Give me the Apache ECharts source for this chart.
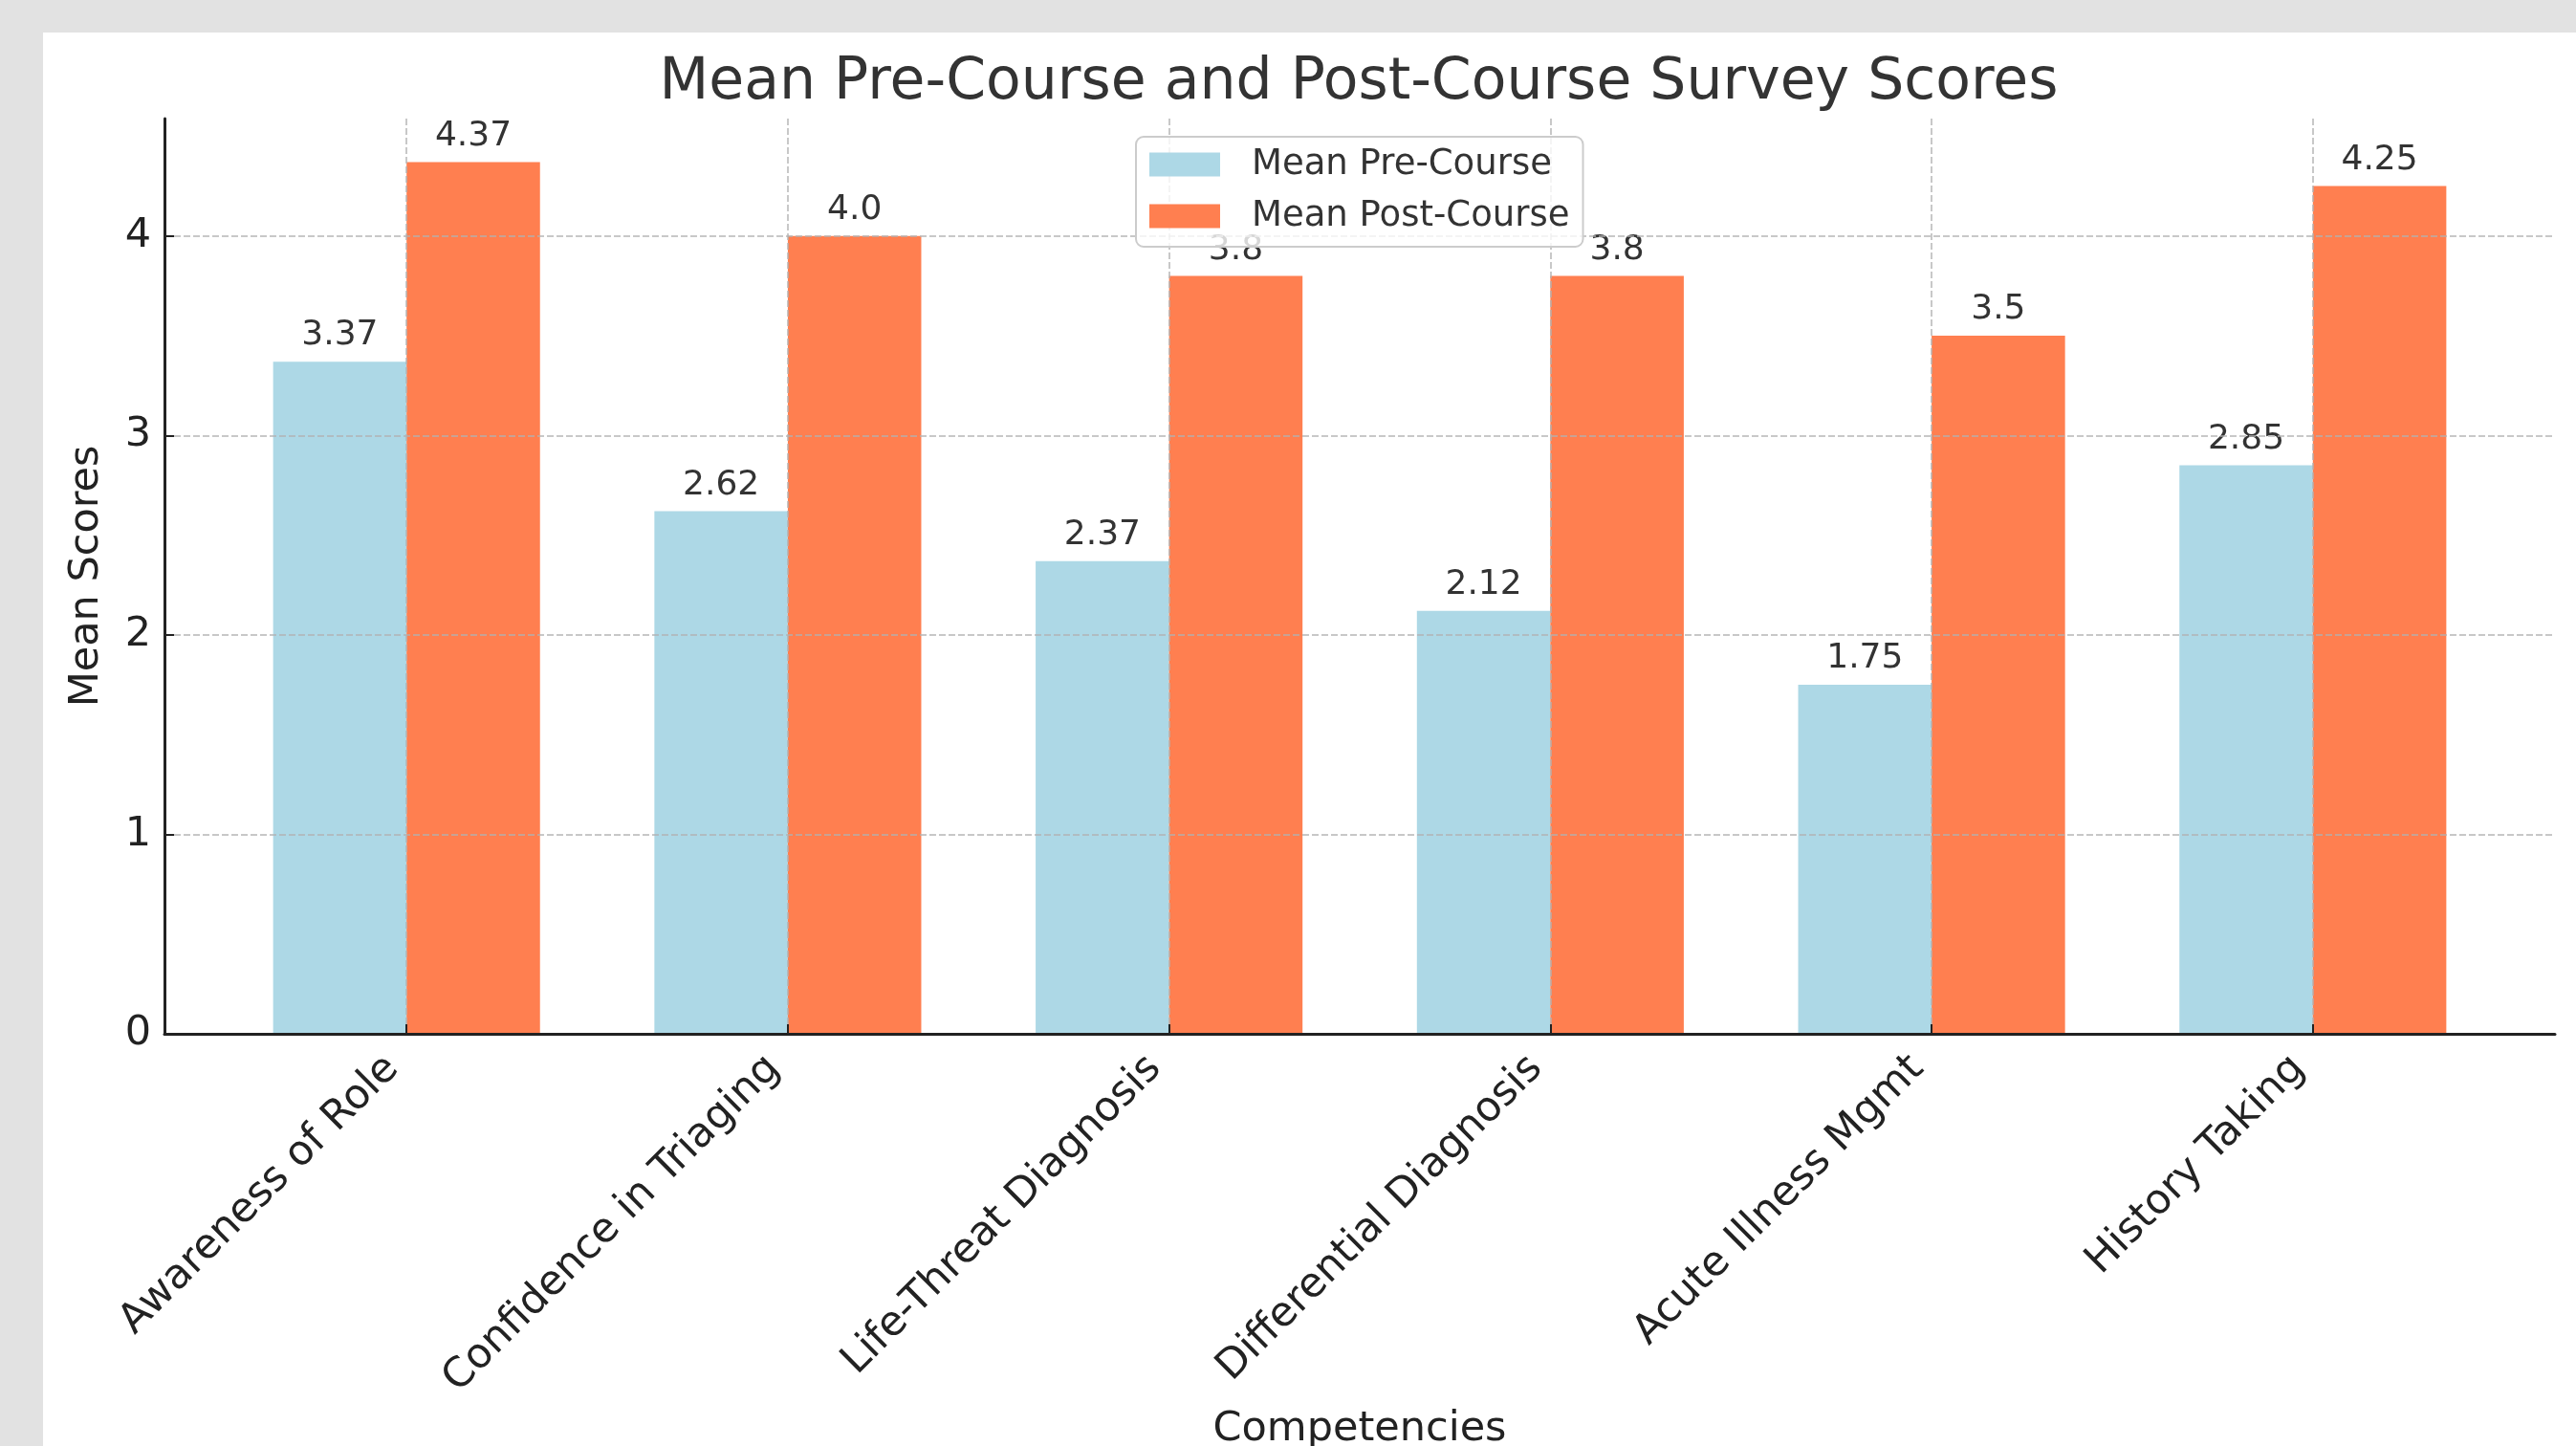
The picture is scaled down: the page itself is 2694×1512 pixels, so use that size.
<!DOCTYPE html>
<html><head><meta charset="utf-8">
<script src="https://cdn.jsdelivr.net/npm/echarts@6/dist/echarts.min.js"></script>
<style>
html,body{margin:0;padding:0;background:#e2e2e2;overflow:hidden;}
#panel{position:absolute;left:45px;top:34px;right:0;bottom:0;background:#ffffff;}
#chart{position:absolute;left:0;top:0;width:2694px;height:1512px;}
</style></head><body>
<div id="panel"></div><div id="chart"></div>
<script>
const titleText = 'Mean Pre-Course and Post-Course Survey Scores';
const categories = ['Awareness of Role', 'Confidence in Triaging', 'Life-Threat Diagnosis', 'Differential Diagnosis', 'Acute Illness Mgmt', 'History Taking'];
const seriesNames = ['Mean Pre-Course', 'Mean Post-Course'];
const preCourse = [3.37, 2.62, 2.37, 2.12, 1.75, 2.85];
const postCourse = [4.37, 4.0, 3.8, 3.8, 3.5, 4.25];
const yTicks = [0, 1, 2, 3, 4];
const xName = 'Competencies';
const yName = 'Mean Scores';

const FONT = 'DejaVu Sans';
const catIdx = categories.map((c, i) => i);
const yMax = Math.max(...postCourse, ...preCourse) * 1.05;
const fmt = v => Number.isInteger(v) ? v.toFixed(1) : String(v);
const gridLine = { type: [7, 3], color: 'rgba(176,176,176,0.7)', width: 2 };

const chart = echarts.init(document.getElementById('chart'), null, { renderer: 'canvas' });
const labelStyle = { show: true, position: 'top', distance: 9, fontSize: 36, color: '#333', fontFamily: FONT,
  formatter: p => fmt(p.value[1]) };
chart.setOption({
  animation: false,
  textStyle: { fontFamily: FONT },
  title: {
    text: titleText, left: 1421, top: 57, padding: 0, textAlign: 'center',
    textStyle: { fontSize: 60, fontWeight: 'normal', color: '#333', fontFamily: FONT }
  },
  legend: {
    orient: 'vertical', left: 1188, top: 143,
    padding: [9, 14, 12, 14], itemGap: 14, itemWidth: 74, itemHeight: 25,
    backgroundColor: 'rgba(255,255,255,0.8)', borderColor: '#cccccc', borderWidth: 2, borderRadius: 8,
    icon: 'rect',
    textStyle: { fontSize: 37, color: '#333', fontFamily: FONT, lineHeight: 40, padding: [0, 0, 0, 28] },
    data: seriesNames
  },
  grid: { left: 172, right: 22, top: 124, bottom: 431, containLabel: false, outerBoundsMode: 'none' },
  xAxis: {
    type: 'value', min: -0.635, max: 5.635, z: 3,
    name: xName, nameLocation: 'middle', nameGap: 392,
    nameTextStyle: { fontSize: 43, color: '#222', fontFamily: FONT },
    axisLine: { show: true, onZero: false, lineStyle: { color: '#222', width: 3 } },
    axisTick: { show: true, inside: true, length: 10, customValues: catIdx, lineStyle: { color: '#222', width: 2 } },
    axisLabel: { customValues: catIdx, formatter: v => categories[v], rotate: 45, fontSize: 43, color: '#222',
      margin: 15, padding: [0, 21, 0, 0], fontFamily: FONT },
    splitLine: { show: true, lineStyle: gridLine }
  },
  yAxis: {
    type: 'value', min: 0, max: yMax, interval: 1, z: 3,
    name: yName, nameLocation: 'middle', nameGap: 60,
    nameTextStyle: { fontSize: 43, color: '#222', fontFamily: FONT },
    axisLine: { show: true, onZero: false, lineStyle: { color: '#222', width: 3 } },
    axisTick: { show: true, inside: true, length: 10, customValues: yTicks, lineStyle: { color: '#222', width: 2 } },
    axisLabel: { customValues: yTicks, fontSize: 43, color: '#222', margin: 14, fontFamily: FONT },
    splitLine: { show: true, lineStyle: gridLine }
  },
  series: [
    { type: 'bar', name: seriesNames[0], data: preCourse.map((v, i) => [i, v]), barWidth: '35%', barGap: '0%',
      itemStyle: { color: '#add8e6' }, label: labelStyle },
    { type: 'bar', name: seriesNames[1], data: postCourse.map((v, i) => [i, v]), barWidth: '35%', barGap: '0%',
      itemStyle: { color: '#ff7f50' }, label: labelStyle }
  ]
});
</script>
</body></html>
